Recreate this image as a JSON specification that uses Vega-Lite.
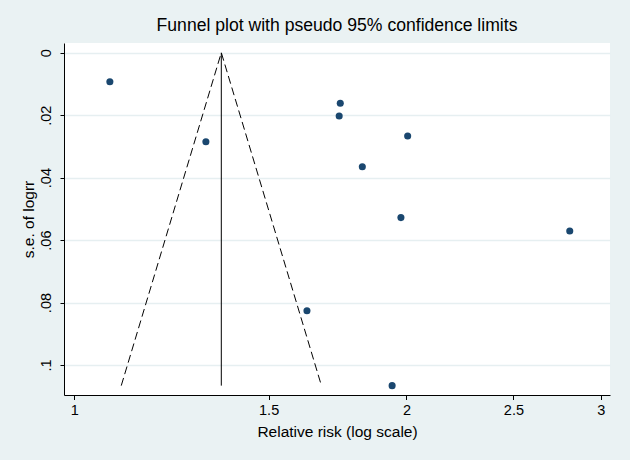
{
  "$schema": "https://vega.github.io/schema/vega-lite/v6.json",
  "width": 546,
  "height": 352,
  "autosize": {"type": "none"},
  "padding": {"left": 64, "top": 43, "right": 20, "bottom": 65},
  "background": "#eaf2f3",
  "config": {"view": {"fill": "white", "stroke": null}, "font": "Liberation Sans"},
  "title": {"text": "Funnel plot with pseudo 95% confidence limits", "fontSize": 17.6, "fontWeight": "normal", "color": "black", "anchor": "middle", "offset": 8, "font": "Liberation Sans"},
  "datasets": {
    "studies": [
      {"rr": 1.077, "se": 0.0093},
      {"rr": 1.316, "se": 0.0285},
      {"rr": 1.742, "se": 0.0162},
      {"rr": 1.738, "se": 0.0203},
      {"rr": 2.005, "se": 0.0267},
      {"rr": 1.824, "se": 0.0365},
      {"rr": 1.977, "se": 0.0528},
      {"rr": 2.812, "se": 0.0571},
      {"rr": 1.625, "se": 0.0826},
      {"rr": 1.941, "se": 0.1066}
    ],
    "funnel": [
      {"rr": 1.1029, "se": 0.1066},
      {"rr": 1.359, "se": 0},
      {"rr": 1.6748, "se": 0.1066}
    ],
    "effect": [
      {"rr": 1.359, "se": 0},
      {"rr": 1.359, "se": 0.1066}
    ]
  },
  "encoding": {
    "x": {
      "field": "rr", "type": "quantitative",
      "scale": {"type": "log", "domain": [0.9787, 3.0584], "nice": false, "zero": false},
      "axis": {
        "title": "Relative risk (log scale)", "values": [1, 1.5, 2, 2.5, 3], "format": "~g",
        "grid": false, "domainColor": "black", "domainWidth": 1, "tickColor": "black", "tickSize": 4.5,
        "labelFontSize": 14.5, "labelColor": "black", "labelPadding": 15, "labelBaseline": "alphabetic",
        "labelFlush": false, "labelOverlap": false, "labelBound": false,
        "titleFontSize": 15.5, "titleFontWeight": "normal", "titleColor": "black", "titleY": 41, "titleBaseline": "alphabetic"
      }
    },
    "y": {
      "field": "se", "type": "quantitative",
      "scale": {"domain": [-0.0031, 0.1096], "reverse": true, "nice": false, "zero": false},
      "axis": {
        "title": "s.e. of logrr", "values": [0, 0.02, 0.04, 0.06, 0.08, 0.1],
        "labelExpr": "datum.value == 0 ? '0' : replace(format(datum.value, '~g'), '0.', '.')",
        "grid": true, "gridColor": "#e6eff1", "gridWidth": 1.5,
        "domainColor": "black", "domainWidth": 1, "tickColor": "black", "tickSize": 4,
        "labelAngle": 270, "labelAlign": "center", "labelBaseline": "alphabetic", "labelPadding": 10,
        "labelFontSize": 14.5, "labelColor": "black", "labelOverlap": false, "labelBound": false, "labelFlush": false,
        "titleFontSize": 15.5, "titleFontWeight": "normal", "titleColor": "black", "titleX": -31, "titleBaseline": "alphabetic"
      }
    }
  },
  "layer": [
    {
      "data": {"name": "funnel"},
      "mark": {"type": "line", "color": "black", "strokeWidth": 1, "strokeDash": [8, 4]},
      "encoding": {"order": {"field": "rr", "type": "quantitative"}}
    },
    {
      "data": {"name": "effect"},
      "mark": {"type": "line", "color": "black", "strokeWidth": 1},
      "encoding": {"order": {"field": "se", "type": "quantitative"}}
    },
    {
      "data": {"name": "studies"},
      "mark": {"type": "point", "filled": true, "shape": "circle", "size": 50, "color": "#1a476f", "opacity": 1},
      "encoding": {}
    }
  ]
}
